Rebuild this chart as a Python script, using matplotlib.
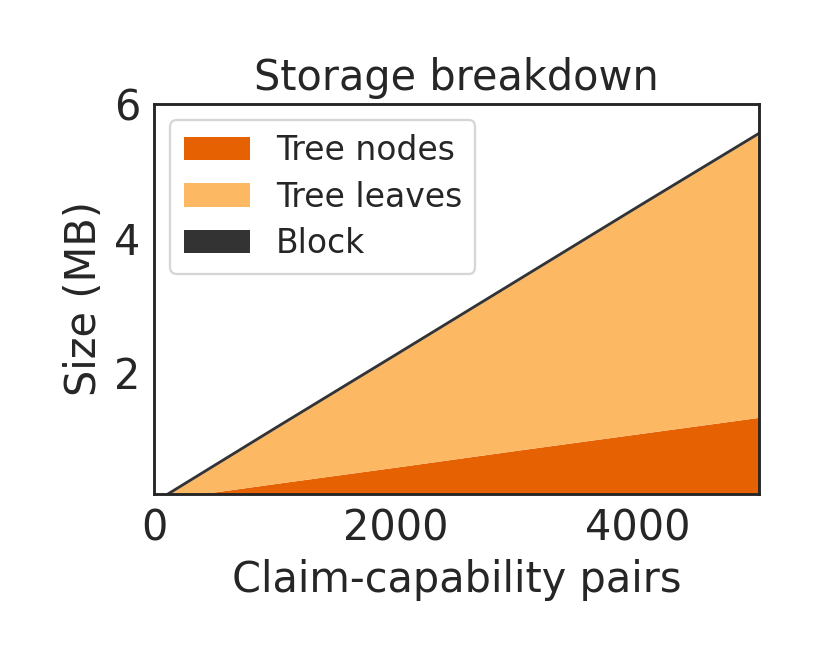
import matplotlib
matplotlib.use("Agg")
import matplotlib.pyplot as plt
import seaborn as sns

sns.set_style("white")
plt.rcParams['font.family'] = ['DejaVu Sans']

pairs = [100, 1000, 2000, 3000, 4000, 5000]
tree_nodes = [0.13, 0.355, 0.60, 0.85, 1.095, 1.34]
tree_leaves = [0.04, 0.81, 1.66, 2.51, 3.365, 4.21]
block = [0.05, 0.05, 0.05, 0.05, 0.05, 0.05]
labels = ["Tree nodes", "Tree leaves", "Block"]
colors = ["#e66101", "#fdb863", "#333333"]

fig = plt.figure(figsize=(5, 4), dpi=166)
ax = fig.add_axes([154/830, 1-494/664, (759-154)/830, (494-104)/664])
ax.stackplot(pairs, tree_nodes, tree_leaves, block, labels=labels,
             colors=colors, linewidth=0, antialiased=True)
ax.set_xlim(0, 5000)
ax.set_ylim(0.2, 6)
ax.set_yticks([2, 4, 6])
ax.set_xticks([0, 2000, 4000])
ax.tick_params(labelsize=18, length=0, pad=6)
ax.set_xlabel("Claim-capability pairs", fontsize=18)
ax.set_ylabel("Size (MB)", fontsize=18)
ax.set_title("Storage breakdown", fontsize=18)
for s in ax.spines.values():
    s.set_linewidth(1.25)
    s.set_color("#262626")
ax.legend(loc="upper left", fontsize=14.3, frameon=True, labelspacing=0.42)
fig.savefig("out.png", dpi=166)
